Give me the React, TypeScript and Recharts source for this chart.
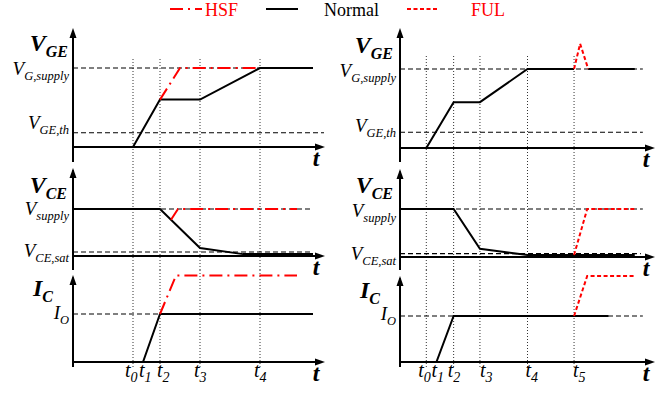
import React from "react";
import { LineChart, Line, XAxis, YAxis, ReferenceLine, ReferenceDot } from "recharts";

const FONT = "Liberation Serif, Times New Roman, serif";
const RED = "#ff0000";
const X_MAX = 12.6;

type Pt = { t: number; v: number | null };

// time instants (same time scale in both columns)
const leftTicks = [3.0, 3.5, 4.35, 6.35, 9.35];
const leftTickNames = ["0", "1", "2", "3", "4"];
const leftMarks = [3.0, 4.35, 6.35, 9.35];
const rightTicks = [1.3, 1.8, 2.65, 3.95, 6.3, 8.6];
const rightTickNames = ["0", "1", "2", "3", "4", "5"];
const rightMarks = [1.3, 2.65, 3.95, 6.3, 8.6];

// left column: normal vs HSF
const vgeNormalL: Pt[] = [
  { t: 0, v: 0 }, { t: 3.0, v: 0 }, { t: 4.35, v: 0.6 }, { t: 6.35, v: 0.6 }, { t: 9.35, v: 1 }, { t: 12, v: 1 },
];
const vgeHsf: Pt[] = [{ t: 4.35, v: 0.6 }, { t: 5.35, v: 1 }, { t: 9.35, v: 1 }];
const vceNormalL: Pt[] = [
  { t: 0, v: 1 }, { t: 4.35, v: 1 }, { t: 6.35, v: 0.17 }, { t: 8.5, v: 0.04 }, { t: 12, v: 0.04 },
];
const vceHsf: Pt[] = [{ t: 4.9, v: 0.77 }, { t: 5.25, v: 1 }, { t: 11.2, v: 1 }];
const icNormalL: Pt[] = [{ t: 0, v: 0 }, { t: 3.5, v: 0 }, { t: 4.35, v: 1 }, { t: 12, v: 1 }];
const icHsf: Pt[] = [{ t: 4.35, v: 1 }, { t: 5.15, v: 1.8 }, { t: 11.2, v: 1.8 }];

// right column: normal vs FUL
const vgeNormalR: Pt[] = [
  { t: 0, v: 0 }, { t: 1.3, v: 0 }, { t: 2.65, v: 0.58 }, { t: 3.95, v: 0.58 }, { t: 6.3, v: 1 },
  { t: 8.6, v: 1 }, { t: 8.9, v: null }, { t: 9.3, v: 1 }, { t: 11.6, v: 1 },
];
const vgeBaseR: Pt[] = [{ t: 0, v: 0 }, { t: 2.9, v: 0 }];
const vgeFul: Pt[] = [{ t: 8.6, v: 1 }, { t: 8.9, v: 1.32 }, { t: 9.3, v: 1 }];
const vceNormalR: Pt[] = [
  { t: 0, v: 1 }, { t: 2.65, v: 1 }, { t: 3.95, v: 0.17 }, { t: 6.3, v: 0.04 }, { t: 11.6, v: 0.04 },
];
const vceFul: Pt[] = [{ t: 8.6, v: 0.04 }, { t: 9.25, v: 1 }, { t: 11.6, v: 1 }];
const icNormalR: Pt[] = [{ t: 0, v: 0 }, { t: 1.8, v: 0 }, { t: 2.65, v: 1 }, { t: 10.3, v: 1 }];
const icBaseR: Pt[] = [{ t: 0, v: 0 }, { t: 3.65, v: 0 }];
const icFul: Pt[] = [{ t: 8.6, v: 1 }, { t: 9.25, v: 1.87 }, { t: 11.6, v: 1.87 }];

// reference levels
const vgeLevelsL = [1, 0.18];
const vgeLevelsR = [1, 0.2];
const vgeLevelNames = [["V", "G,supply"], ["V", "GE,th"]];
const vceLevelsL = [1, 0.085];
const vceLevelsR = [1, 0.07];
const vceLevelNames = [["V", "supply"], ["V", "CE,sat"]];
const icLevels = [1];
const icLevelNames = [["I", "O"]];

const legendItems = [
  { name: "HSF", color: RED, dash: "13 5 2 5" },
  { name: "Normal", color: "#000", dash: "" },
  { name: "FUL", color: RED, dash: "4 2.5" },
];

interface PanelCfg {
  left: number;
  axisW: number;
  top: number;
  bottom: number;
  base: number;
  unit: number;
  tip: number;
  markTop?: number;
  title: string[];
  titleDx: number;
  titleY: number;
  levels: number[];
  levelEnds: number[];
  levelNames: string[][];
  levelDy: number[];
  normal: Pt[][];
  red: Pt[];
  redDash: string;
  marks: number[];
  ticks?: number[];
  tickNames?: string[];
  tickDx?: number[];
}

const panels: PanelCfg[] = [
  {
    left: 0, axisW: 73, top: 28, bottom: 162, base: 147, unit: 79, tip: 28, markTop: 57,
    title: ["V", "GE"], titleDx: 5, titleY: 23,
    levels: vgeLevelsL, levelEnds: [12, 12.55], levelNames: vgeLevelNames, levelDy: [7, -4],
    normal: [vgeNormalL], red: vgeHsf, redDash: "13 5 2 5", marks: leftMarks,
  },
  {
    left: 0, axisW: 73, top: 162, bottom: 270, base: 256, unit: 47, tip: 168,
    title: ["V", "CE"], titleDx: 6, titleY: 31,
    levels: vceLevelsL, levelEnds: [12, 12], levelNames: vceLevelNames, levelDy: [6, 5],
    normal: [vceNormalL], red: vceHsf, redDash: "13 5 2 5", marks: leftMarks,
  },
  {
    left: 0, axisW: 73, top: 270, bottom: 367, base: 362, unit: 48, tip: 275,
    title: ["I", "C"], titleDx: 20, titleY: 26,
    levels: icLevels, levelEnds: [12], levelNames: icLevelNames, levelDy: [5],
    normal: [icNormalL], red: icHsf, redDash: "13 5 2 5", marks: leftMarks,
    ticks: leftTicks, tickNames: leftTickNames, tickDx: [-8, -4, -3, -6, -6],
  },
  {
    left: 330, axisW: 70, top: 28, bottom: 162, base: 148, unit: 79, tip: 28, markTop: 55,
    title: ["V", "GE"], titleDx: 7, titleY: 25,
    levels: vgeLevelsR, levelEnds: [12, 12], levelNames: vgeLevelNames, levelDy: [8, 0],
    normal: [vgeNormalR, vgeBaseR], red: vgeFul, redDash: "4 2.5", marks: rightMarks,
  },
  {
    left: 330, axisW: 70, top: 162, bottom: 270, base: 257, unit: 48, tip: 169,
    title: ["V", "CE"], titleDx: 7, titleY: 31,
    levels: vceLevelsR, levelEnds: [12, 11.9], levelNames: vceLevelNames, levelDy: [8, 6],
    normal: [vceNormalR], red: vceFul, redDash: "4 2.5", marks: rightMarks,
  },
  {
    left: 330, axisW: 70, top: 270, bottom: 367, base: 362, unit: 46, tip: 276,
    title: ["I", "C"], titleDx: 20, titleY: 28,
    levels: icLevels, levelEnds: [12], levelNames: icLevelNames, levelDy: [4],
    normal: [icNormalR, icBaseR], red: icFul, redDash: "4 2.5", marks: rightMarks,
    ticks: rightTicks, tickNames: rightTickNames, tickDx: [-8, -5, -6, 0, -2, -1],
  },
];

const serif = { fontFamily: FONT };

function Panel({ c }: { c: PanelCfg }) {
  const h = c.bottom - c.top;
  const yMin = -(c.bottom - c.base) / c.unit;
  const yMax = (c.base - c.top) / c.unit;
  const tipV = (c.base - c.tip) / c.unit;
  const markTopV = c.markTop != null ? (c.base - c.markTop) / c.unit : yMax;
  const xAxisH = c.ticks ? 30 : 0;

  const levelTick = (p: any) => {
    const i = c.levels.indexOf(p.payload.value);
    if (i < 0) return <g />;
    const [main, sub] = c.levelNames[i];
    return (
      <text x={p.x - 4} y={p.y + c.levelDy[i]} textAnchor="end" style={serif} fontStyle="italic" fill="#000">
        <tspan fontSize={19}>{main}</tspan>
        <tspan fontSize={12.5} dy={5}>{sub}</tspan>
      </text>
    );
  };

  const timeTick = (p: any) => {
    const i = (c.ticks || []).indexOf(p.payload.value);
    const dx = c.tickDx ? c.tickDx[i] : 0;
    return (
      <text x={p.x + dx} y={p.y + 10} textAnchor="start" style={serif} fontStyle="italic" fill="#000">
        <tspan fontSize={20}>t</tspan>
        <tspan fontSize={14} dy={5}>{c.tickNames ? c.tickNames[i] : ""}</tspan>
      </text>
    );
  };

  return (
    <div style={{ position: "absolute", left: c.left, top: c.top }}>
      <LineChart width={335} height={h + xAxisH} margin={{ top: 0, right: 10, bottom: 0, left: 0 }}>
        <XAxis
          type="number"
          dataKey="t"
          domain={[0, X_MAX]}
          allowDataOverflow
          hide={!c.ticks}
          height={xAxisH || 1}
          ticks={c.ticks}
          interval={0}
          axisLine={false}
          tickLine={false}
          tickSize={0}
          tickMargin={0}
          tick={timeTick}
        />
        <YAxis
          type="number"
          domain={[yMin, yMax]}
          allowDataOverflow
          width={c.axisW}
          ticks={c.levels}
          interval={0}
          axisLine={false}
          tickLine={false}
          tickSize={0}
          tickMargin={0}
          tick={levelTick}
          label={{
            content: () => (
              <text
                x={c.axisW - c.titleDx}
                y={c.titleY}
                textAnchor="end"
                style={serif}
                fontStyle="italic"
                fontWeight="bold"
                fill="#000"
              >
                <tspan fontSize={24}>{c.title[0]}</tspan>
                <tspan fontSize={16} dy={6}>{c.title[1]}</tspan>
              </text>
            ),
          }}
        />
        {c.marks.map((m) => (
          <ReferenceLine
            key={"m" + m}
            segment={[{ x: m, y: yMin }, { x: m, y: markTopV }]}
            stroke="#333"
            strokeWidth={1}
            strokeDasharray="1 2"
            ifOverflow="visible"
          />
        ))}
        {c.levels.map((lv, i) => (
          <ReferenceLine
            key={"l" + i}
            segment={[{ x: 0, y: lv }, { x: c.levelEnds[i], y: lv }]}
            stroke="#000"
            strokeWidth={1.1}
            strokeDasharray="5 3"
            ifOverflow="visible"
          />
        ))}
        <ReferenceLine
          segment={[{ x: 0, y: 0 }, { x: X_MAX - 0.3, y: 0 }]}
          stroke="#000"
          strokeWidth={2}
          ifOverflow="visible"
        />
        <ReferenceLine
          segment={[{ x: 0, y: yMin }, { x: 0, y: tipV - 0.05 }]}
          stroke="#000"
          strokeWidth={2}
          ifOverflow="visible"
        />
        <ReferenceDot
          x={X_MAX}
          y={0}
          ifOverflow="visible"
          shape={(p: any) => (
            <g>
              <path d={`M${p.cx},${p.cy} L${p.cx - 10},${p.cy - 3.5} L${p.cx - 10},${p.cy + 3.5} Z`} fill="#000" />
              <text
                x={p.cx - 9}
                y={p.cy + 19}
                textAnchor="middle"
                style={serif}
                fontStyle="italic"
                fontWeight="bold"
                fontSize={24}
                fill="#000"
              >
                t
              </text>
            </g>
          )}
        />
        <ReferenceDot
          x={0}
          y={tipV}
          ifOverflow="visible"
          shape={(p: any) => (
            <path d={`M${p.cx},${p.cy} L${p.cx - 3.5},${p.cy + 10} L${p.cx + 3.5},${p.cy + 10} Z`} fill="#000" />
          )}
        />
        {c.normal.map((d, i) => (
          <Line
            key={"n" + i}
            data={d}
            dataKey="v"
            type="linear"
            stroke="#000"
            strokeWidth={2}
            dot={false}
            activeDot={false}
            connectNulls={false}
            isAnimationActive={false}
          />
        ))}
        <Line
          data={c.red}
          dataKey="v"
          type="linear"
          stroke={RED}
          strokeWidth={2}
          strokeDasharray={c.redDash}
          dot={false}
          activeDot={false}
          isAnimationActive={false}
        />
      </LineChart>
    </div>
  );
}

function LegendRow() {
  const lineX = [170, 266, 407];
  const textX = [205, 324, 471];
  return (
    <svg width={665} height={24} style={{ position: "absolute", left: 0, top: 0 }}>
      {legendItems.map((it, i) => (
        <g key={it.name}>
          <line
            x1={lineX[i]}
            x2={lineX[i] + 32}
            y1={9}
            y2={9}
            stroke={it.color}
            strokeWidth={2}
            strokeDasharray={it.dash || undefined}
          />
          <text x={textX[i]} y={16} style={serif} fontSize={18} fill={it.color}>
            {it.name}
          </text>
        </g>
      ))}
    </svg>
  );
}

export default function App() {
  return (
    <div
      style={{
        position: "absolute",
        left: 0,
        top: 0,
        width: 665,
        height: 394,
        background: "#fff",
        overflow: "hidden",
        fontFamily: FONT,
      }}
    >
      <style>{".recharts-surface{overflow:visible}"}</style>
      {panels.map((c, i) => (
        <Panel key={i} c={c} />
      ))}
      <LegendRow />
    </div>
  );
}
